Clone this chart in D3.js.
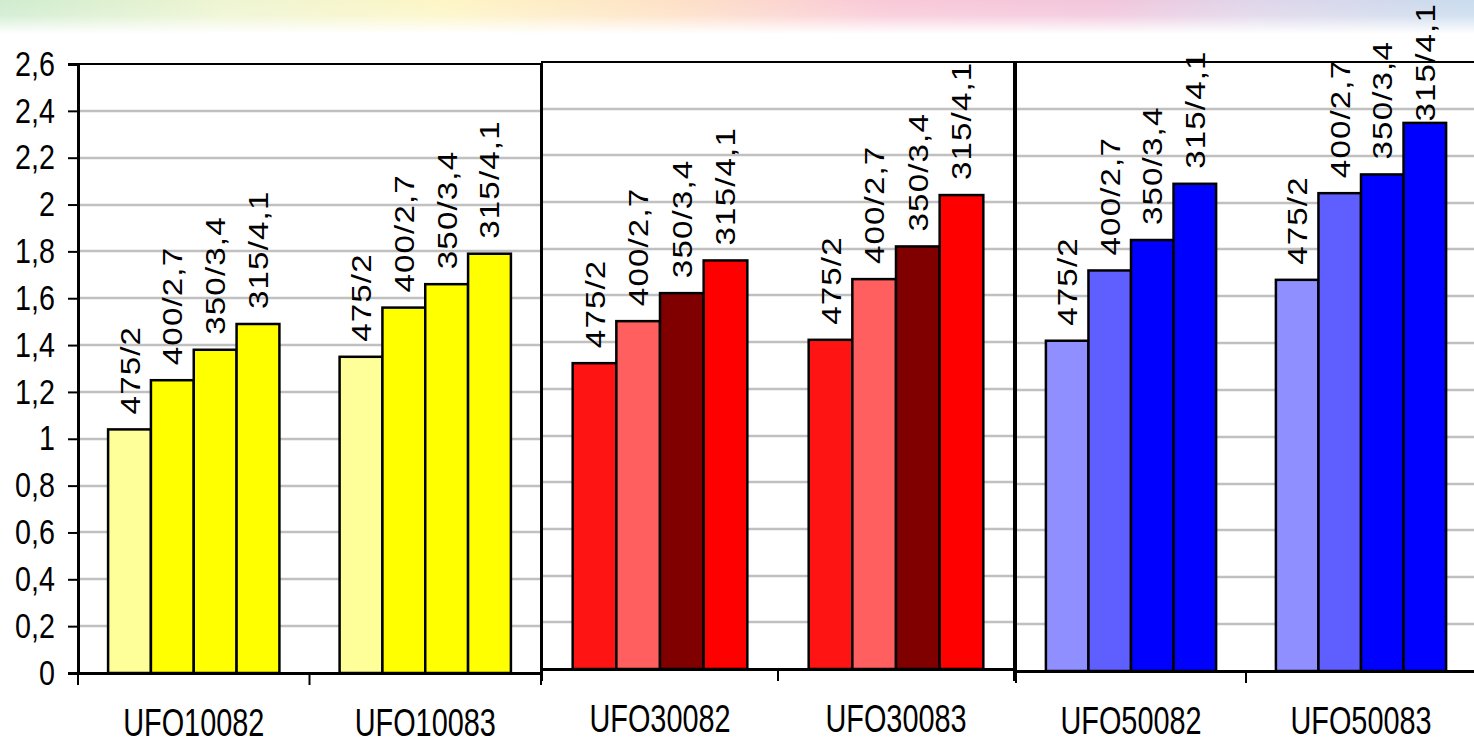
<!DOCTYPE html>
<html>
<head>
<meta charset="utf-8">
<script src="https://cdn.jsdelivr.net/npm/d3@7"></script>
<style>
  html, body { margin: 0; padding: 0; background: #fff; }
  svg { display: block; }
</style>
</head>
<body>
<div id="chart"></div>
<script>
(function() {

  var series = ["475/2", "400/2,7", "350/3,4", "315/4,1"];
  var yTicks = [0, 0.2, 0.4, 0.6, 0.8, 1, 1.2, 1.4, 1.6, 1.8, 2, 2.2, 2.4, 2.6];

  var yellowCats = ["UFO10082", "UFO10083"],
      yellowValues = [[1.04, 1.25, 1.38, 1.49], [1.35, 1.56, 1.66, 1.79]],
      yellowColors = ["#ffff99", "#ffff00", "#ffff00", "#ffff00"];

  var redCats = ["UFO30082", "UFO30083"],
      redValues = [[1.31, 1.49, 1.61, 1.75], [1.41, 1.67, 1.81, 2.03]],
      redColors = ["#ff1414", "#ff5f5f", "#800000", "#ff0000"];

  var blueCats = ["UFO50082", "UFO50083"],
      blueValues = [[1.41, 1.71, 1.84, 2.08], [1.67, 2.04, 2.12, 2.34]],
      blueColors = ["#8f8fff", "#5f5fff", "#0000ff", "#0000ff"];

  var width = 1474,
      height = 744;

  // three charts pasted side by side, each with its own plot box
  var panels = [
    {cats: yellowCats, values: yellowValues, colors: yellowColors, x: [78, 541], y: [673, 64], yAxis: true},
    {cats: redCats, values: redValues, colors: redColors, x: [542, 1014], y: [669, 62]},
    {cats: blueCats, values: blueValues, colors: blueColors, x: [1016, 1476], y: [671, 62]}
  ];

  var fmt = d3.formatLocale({decimal: ",", thousands: ".", grouping: [3], currency: ["", ""]}).format("~g");

  var svg = d3.select("#chart").append("svg")
      .attr("width", width)
      .attr("height", height);

  // blurred colour strip at the top
  var defs = svg.append("defs");
  var hg = defs.append("linearGradient").attr("id", "strip");
  [["0", "#cfeccf"], ["0.15", "#eef5d2"], ["0.3", "#fdf6c6"], ["0.45", "#fee2c6"],
   ["0.6", "#f9c9d8"], ["0.75", "#f2c6dc"], ["0.85", "#e0d6ea"], ["1", "#c9dcee"]].forEach(function(s) {
    hg.append("stop").attr("offset", s[0]).attr("stop-color", s[1]);
  });
  var vg = defs.append("linearGradient").attr("id", "fade")
      .attr("x1", 0).attr("y1", 0).attr("x2", 0).attr("y2", 1);
  vg.append("stop").attr("offset", "0").attr("stop-color", "#fff").attr("stop-opacity", 0);
  vg.append("stop").attr("offset", "0.45").attr("stop-color", "#fff").attr("stop-opacity", 0.15);
  vg.append("stop").attr("offset", "1").attr("stop-color", "#fff").attr("stop-opacity", 1);

  svg.append("rect").attr("width", width).attr("height", 34).attr("fill", "url(#strip)");
  svg.append("rect").attr("width", width).attr("height", 34).attr("fill", "url(#fade)");

  panels.forEach(function(p) {
    var g = svg.append("g");

    var y = d3.scaleLinear().domain([0, 2.6]).range(p.y);
    var x0 = d3.scaleBand().domain(p.cats).range(p.x);
    var bw = x0.bandwidth();
    var x1 = d3.scaleBand().domain(series).range([bw * 0.13, bw * 0.87]);

    // gridlines
    g.append("g").selectAll("line")
      .data(yTicks.filter(function(d) { return d > 0 && d < 2.6; }))
      .join("line")
        .attr("x1", p.x[0]).attr("x2", p.x[1] - 1)
        .attr("y1", function(d) { return Math.round(y(d)); })
        .attr("y2", function(d) { return Math.round(y(d)); })
        .attr("stroke", "#c0c0c0")
        .attr("stroke-width", 2.5);

    // plot frame
    g.append("path")
        .attr("d", "M" + p.x[0] + "," + p.y[0] + "V" + p.y[1] + "H" + p.x[1] + "V" + p.y[0])
        .attr("fill", "none")
        .attr("stroke", "#000")
        .attr("stroke-width", 2);

    // bars
    var groups = g.append("g").selectAll("g")
      .data(p.cats)
      .join("g")
        .attr("transform", function(c) { return "translate(" + x0(c) + ",0)"; });

    groups.selectAll("rect")
      .data(function(c, i) { return p.values[i].map(function(v, j) { return {s: series[j], v: v, j: j}; }); })
      .join("rect")
        .attr("x", function(d) { return x1(d.s); })
        .attr("y", function(d) { return y(d.v); })
        .attr("width", x1.bandwidth())
        .attr("height", function(d) { return y(0) - y(d.v); })
        .attr("fill", function(d) { return p.colors[d.j]; })
        .attr("stroke", "#000")
        .attr("stroke-width", 2.5);

    // rotated value labels above each bar (stretched along the text like the original)
    var stretch = 1.18;
    groups.selectAll("text")
      .data(function(c, i) { return p.values[i].map(function(v, j) { return {s: series[j], v: v}; }); })
      .join("text")
        .text(function(d) { return d.s; })
        .attr("font-family", "'Liberation Sans', Arial, sans-serif")
        .attr("font-size", 28)
        .attr("letter-spacing", "1px")
        .attr("fill", "#000")
        .attr("transform", function(d) {
          var len = this.getComputedTextLength() * stretch,
              base = y(d.v) - 15;
          if (base - len < 3) base = len + 3;
          return "translate(" + (x1(d.s) + x1.bandwidth() / 2 + 10) + "," + base + ") rotate(-90) scale(" + stretch + ",1)";
        });

    // x axis
    var xa = g.append("g")
        .attr("transform", "translate(0," + p.y[0] + ")")
        .call(d3.axisBottom(x0).tickSize(0).tickPadding(36));
    xa.select(".domain").attr("stroke-width", 3);
    xa.selectAll("text")
        .attr("font-family", "'Liberation Sans', Arial, sans-serif")
        .attr("font-size", 38)
        .attr("transform", "scale(0.76,1)")
        .attr("fill", "#000");

    xa.selectAll(".band-tick")
      .data(p.cats.map(function(c) { return x0(c); }).concat([p.x[1]]))
      .join("line")
        .attr("class", "band-tick")
        .attr("x1", function(d) { return d; }).attr("x2", function(d) { return d; })
        .attr("y1", 0).attr("y2", 12)
        .attr("stroke", "#000")
        .attr("stroke-width", 2);

    if (p.yAxis) {
      var ya = g.append("g")
          .attr("transform", "translate(" + p.x[0] + ",0)")
          .call(d3.axisLeft(y).tickValues(yTicks).tickFormat(fmt).tickSize(10).tickPadding(13));
      ya.select(".domain").attr("stroke-width", 3);
      ya.selectAll(".tick line").attr("stroke-width", 2);
      ya.selectAll("text")
          .attr("font-family", "'Liberation Sans', Arial, sans-serif")
          .attr("font-size", 35)
          .attr("x", -23 / 0.82)
          .attr("transform", "scale(0.82,1)")
          .attr("fill", "#000");
    }
  });

})()
</script>
</body>
</html>
